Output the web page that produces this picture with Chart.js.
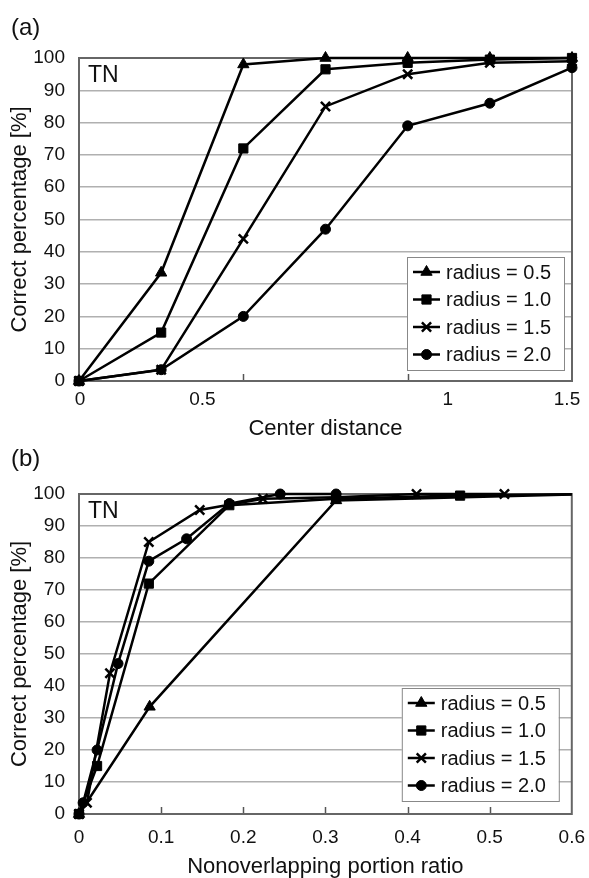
<!DOCTYPE html>
<html>
<head>
<meta charset="utf-8">
<script src="https://cdn.jsdelivr.net/npm/chart.js@4.4.1/dist/chart.umd.min.js"></script>
<style>
  html, body { margin: 0; padding: 0; background: #fff; }
  .panel { position: relative; width: 589px; }
</style>
</head>
<body>
<div class="panel" style="height:440px"><canvas id="chartA"></canvas></div>
<div class="panel" style="height:438px"><canvas id="chartB"></canvas></div>
<script>
// TN correct percentage for each radius, by center distance
const seriesNames = ['radius = 0.5', 'radius = 1.0', 'radius = 1.5', 'radius = 2.0'];
const centerDistance = [0, 0.25, 0.5, 0.75, 1.0, 1.25, 1.5, 1.75, 2.0];
const correctR05 = [0, 33.5, 98, 100, 100, 100, 100, 100, 100];
const correctR10 = [0, 15, 72, 96.5, 98.5, 99.5, 100, 100, 100];
const correctR15 = [0, 3.5, 44, 85, 95, 98.5, 99, 100, 100];
const correctR20 = [0, 3.5, 20, 47, 79, 86, 97, 100, 100];

// nonoverlapping portion ratio at the same distances (null = past the axis)
const ratioR05 = [0, 0.086, 0.313, 0.62, null, null, null, null, null];
const ratioR10 = [0, 0.022, 0.085, 0.183, 0.313, 0.464, 0.62, null, null];
const ratioR15 = [0, 0.0097, 0.0377, 0.085, 0.147, 0.224, 0.313, 0.411, 0.518];
const ratioR20 = [0, 0.005, 0.022, 0.0475, 0.085, 0.131, 0.183, 0.245, 0.313];

const distanceTicks = [0, 0.5, 1, 1.5];
const distanceTickLabels = ['0', '0.5', '1', '1.5'];
const ratioTicks = [0, 0.1, 0.2, 0.3, 0.4, 0.5, 0.6];
const percentTicks = [0, 10, 20, 30, 40, 50, 60, 70, 80, 90, 100];

const FONT = '"Liberation Sans", Arial, Helvetica, sans-serif';
const markers = [
  { pointStyle: 'triangle', pointRadius: 6.5, pointBorderWidth: 1 },
  { pointStyle: 'rect', pointRadius: 6.5, pointBorderWidth: 1 },
  { pointStyle: 'crossRot', pointRadius: 6.5, pointBorderWidth: 2.5 },
  { pointStyle: 'circle', pointRadius: 5, pointBorderWidth: 1 }
];

function byDistance(values, maxD) {
  return centerDistance.map((d, i) => ({ x: d, y: values[i] })).filter(p => p.x <= maxD);
}
function byRatio(ratios, values) {
  return ratios.map((r, i) => ({ x: r, y: values[i] })).filter(p => p.x !== null);
}

function makeDatasets(seriesData, clip) {
  return seriesData.map((data, i) => Object.assign({
    label: seriesNames[i],
    data: data,
    borderColor: '#000',
    backgroundColor: '#000',
    borderWidth: 2.5,
    tension: 0,
    fill: false,
    clip: clip
  }, markers[i]));
}

// box, inner tick marks, panel tag, "TN" and the boxed legend
const panelDecor = {
  id: 'panelDecor',
  beforeDatasetsDraw(chart, args, opts) {
    const { ctx, chartArea: a } = chart;
    const xs = chart.scales.x;
    ctx.save();
    ctx.strokeStyle = '#555';
    ctx.lineWidth = 1.5;
    xs.ticks.slice(1, -1).forEach(t => {
      const px = Math.round(xs.getPixelForValue(t.value)) + 0.5;
      ctx.beginPath();
      ctx.moveTo(px, a.bottom);
      ctx.lineTo(px, a.bottom - 7);
      ctx.stroke();
    });
    ctx.strokeStyle = '#666';
    ctx.lineWidth = 2;
    ctx.strokeRect(a.left, a.top, a.right - a.left, a.bottom - a.top);
    ctx.restore();
  },
  afterDraw(chart, args, opts) {
    const { ctx, chartArea: a } = chart;
    ctx.save();
    ctx.fillStyle = '#111';
    ctx.textBaseline = 'middle';
    ctx.textAlign = 'left';
    ctx.font = '24px ' + FONT;
    ctx.fillText(opts.tag, 11, opts.tagY);
    ctx.font = '23px ' + FONT;
    ctx.fillText('TN', a.left + 9, a.top + 18);

    // hand-placed distance labels under the axis
    if (opts.shiftedLabels) {
      const xs = chart.scales.x;
      ctx.font = '19px ' + FONT;
      ctx.textAlign = 'center';
      distanceTicks.forEach((v, i) => {
        ctx.fillText(distanceTickLabels[i], xs.getPixelForValue(v) + opts.shiftedLabels[i], a.bottom + 19);
      });
    }

    // legend box in the lower right of the plot
    const w = 157, h = 113, rowH = 27.5;
    const bx = a.right - opts.legendRight - w;
    const by = a.bottom - opts.legendBottom - h;
    ctx.fillStyle = '#fff';
    ctx.fillRect(bx, by, w, h);
    ctx.strokeStyle = '#888';
    ctx.lineWidth = 1;
    ctx.strokeRect(bx + 0.5, by + 0.5, w, h);
    chart.data.datasets.forEach((ds, i) => {
      const cy = by + 15 + i * rowH;
      ctx.strokeStyle = '#000';
      ctx.lineWidth = 2.5;
      ctx.beginPath();
      ctx.moveTo(bx + 6, cy);
      ctx.lineTo(bx + 33, cy);
      ctx.stroke();
      ctx.fillStyle = '#000';
      ctx.lineWidth = ds.pointBorderWidth;
      Chart.helpers.drawPoint(ctx, {
        pointStyle: ds.pointStyle, radius: ds.pointRadius, rotation: 0, borderWidth: ds.pointBorderWidth
      }, bx + 19.5, cy);
      ctx.fillStyle = '#111';
      ctx.font = '20px ' + FONT;
      ctx.textAlign = 'left';
      ctx.fillText(ds.label, bx + 39, cy + 1);
    });
    ctx.restore();
  }
};

function makeOptions(cfg) {
  return {
    responsive: true,
    maintainAspectRatio: false,
    animation: false,
    layout: { padding: { top: cfg.top, right: 17, left: 0, bottom: 0 } },
    plugins: {
      legend: { display: false },
      tooltip: { enabled: false },
      panelDecor: cfg.decor
    },
    scales: {
      x: {
        type: 'linear',
        min: 0,
        max: cfg.xMax,
        afterBuildTicks: s => { s.ticks = cfg.xTicks.map(v => ({ value: v })); },
        afterFit: s => { s.height = cfg.xHeight; },
        grid: { display: false },
        border: { display: false },
        ticks: {
          display: cfg.xTickLabels,
          color: '#111',
          padding: 4,
          maxRotation: 0,
          font: { family: FONT, size: 19 },
          callback: v => String(v)
        },
        title: {
          display: true,
          text: cfg.xTitle,
          color: '#111',
          padding: { top: 0, bottom: 0 },
          font: { family: FONT, size: 22, lineHeight: 1 }
        }
      },
      y: {
        min: 0,
        max: 100,
        afterBuildTicks: s => { s.ticks = percentTicks.map(v => ({ value: v })); },
        afterFit: s => { s.width = 79; },
        grid: { color: '#b0b0b0', lineWidth: 1.5, drawTicks: false },
        border: { display: false },
        ticks: {
          color: '#111',
          padding: 14,
          font: { family: FONT, size: 19 }
        },
        title: {
          display: true,
          text: 'Correct percentage [%]',
          color: '#111',
          padding: { top: 9, bottom: 0 },
          font: { family: FONT, size: 22, lineHeight: 1 }
        }
      }
    }
  };
}

new Chart(document.getElementById('chartA'), {
  type: 'line',
  data: {
    datasets: makeDatasets([
      byDistance(correctR05, 1.5),
      byDistance(correctR10, 1.5),
      byDistance(correctR15, 1.5),
      byDistance(correctR20, 1.5)
    ], false)
  },
  options: makeOptions({
    top: 58, xMax: 1.5, xTicks: distanceTicks, xHeight: 59, xTickLabels: false,
    xTitle: 'Center distance',
    decor: { tag: '(a)', tagY: 28, shiftedLabels: [1, -41, 40, -5], legendRight: 8, legendBottom: 11 }
  }),
  plugins: [panelDecor]
});

new Chart(document.getElementById('chartB'), {
  type: 'line',
  data: {
    datasets: makeDatasets([
      byRatio(ratioR05, correctR05),
      byRatio(ratioR10, correctR10),
      byRatio(ratioR15, correctR15),
      byRatio(ratioR20, correctR20)
    ], { left: 8, top: 8, right: 0, bottom: 8 })
  },
  options: makeOptions({
    top: 54, xMax: 0.6, xTicks: ratioTicks, xHeight: 64, xTickLabels: true,
    xTitle: 'Nonoverlapping portion ratio',
    decor: { tag: '(b)', tagY: 19, shiftedLabels: null, legendRight: 13, legendBottom: 13 }
  }),
  plugins: [panelDecor]
});
</script>
</body>
</html>
